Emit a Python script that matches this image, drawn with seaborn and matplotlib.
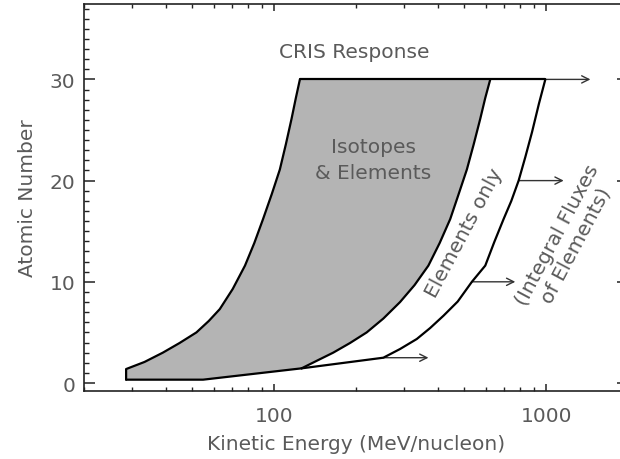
import matplotlib
matplotlib.use("Agg")
import matplotlib.pyplot as plt
import seaborn as sns
import numpy as np
from matplotlib.ticker import FixedLocator, MultipleLocator, FuncFormatter, NullFormatter, LogLocator

# ---- data ----
# left edge of the "Isotopes & Elements" region (energy MeV/nucleon, Z)
left_E = [28.5, 28.5, 33.3, 38.9, 44.8, 51.7, 57.4, 63.0, 70.3, 78.0,
          84.4, 90.9, 97.9, 104.8, 110.3, 115.7, 120.0, 124.2]
left_Z = [0.33, 1.38, 2.08, 3.0, 3.95, 5.0, 6.13, 7.3, 9.29, 11.6,
          13.83, 16.2, 18.68, 21.1, 23.6, 26.1, 28.16, 30]
# right edge of shaded region = left edge of "Elements only"
mid_E = [126.0, 143.1, 164.7, 189.8, 218.7, 251.8, 290.1, 328.1, 368.8,
         405.7, 443.7, 476.7, 510.9, 541.5, 572.1, 596.9, 622.8]
mid_Z = [1.45, 2.19, 3.0, 3.95, 5.0, 6.37, 8.0, 9.68, 11.6,
         13.83, 16.2, 18.68, 21.1, 23.6, 26.1, 28.16, 30]
# bottom of shaded region
bottom_E = [28.5, 54.7, 126.0]
bottom_Z = [0.33, 0.33, 1.45]
# outer edge of the "Elements only" region
outer_E = [126.0, 251.8, 290.1, 334.3, 374.2, 419.1, 472.7, 533.0, 597.0,
           644.4, 697.3, 744.1, 792.0, 838.2, 887.3, 940.0, 993.0]
outer_Z = [1.45, 2.5, 3.36, 4.35, 5.43, 6.65, 8.05, 10, 11.6,
           13.93, 16.2, 17.98, 20, 22.33, 24.8, 27.57, 30]
# top line
top_E = [124.2, 993.0]
top_Z = [30, 30]
# integral flux arrows
arrow_Z = [2.5, 10, 20, 30]
arrow_start = [251.8, 533.0, 792.0, 993.0]
arrow_end = [369.0, 770.0, 1160.0, 1455.0]

x_ticks = [100, 1000]
y_ticks = [0, 10, 20, 30]

# ---- style ----
sns.set_style("white")
plt.rcParams["font.family"] = ["DejaVu Sans"]
txt = "#5a5a5a"
fs = 14.5

fig = plt.figure(figsize=(6.2, 4.6), dpi=100)
ax = fig.add_axes([84.3 / 620, (460 - 391.5) / 460, (628 - 84.3) / 620, (391.5 - 5) / 460])
ax.set_xscale("log")
ax.set_xlim(20, 2000)
ax.set_ylim(-0.74, 37.45)

# shaded polygon
poly_E = left_E + mid_E[::-1] + bottom_E[::-1][1:]
poly_Z = left_Z + mid_Z[::-1] + bottom_Z[::-1][1:]
ax.fill(poly_E, poly_Z, color="#b4b4b4", lw=0, zorder=1)

line_kw = dict(color="black", linewidth=1.6, sort=False, estimator=None, ax=ax, zorder=3)
for xs, ys in [(left_E, left_Z), (mid_E, mid_Z), (bottom_E, bottom_Z),
               (outer_E, outer_Z), (top_E, top_Z)]:
    sns.lineplot(x=xs, y=ys, **line_kw)

for z, xs, xe in zip(arrow_Z, arrow_start, arrow_end):
    ax.annotate("", xy=(xe, z), xytext=(xs, z),
                arrowprops=dict(arrowstyle="->", color="#333333", lw=1.0,
                                shrinkA=0, shrinkB=0, mutation_scale=13),
                zorder=2)

# texts
ax.text(197.6, 32.8, "CRIS Response", color=txt, fontsize=fs, ha="center", va="center")
ax.text(230.7, 22.1, "Isotopes\n& Elements", color=txt, fontsize=fs, ha="center",
        va="center", linespacing=1.45)
ax.text(499.5, 14.9, "Elements only", color=txt, fontsize=fs, ha="center", va="center",
        rotation=62, rotation_mode="anchor")
ax.text(1190, 14.2, "(Integral Fluxes\nof Elements)", color=txt, fontsize=fs,
        ha="center", va="center", rotation=62, rotation_mode="anchor",
        multialignment="center", linespacing=1.2)

# axes
ax.xaxis.set_major_locator(FixedLocator(x_ticks))
ax.xaxis.set_major_formatter(FuncFormatter(lambda v, _: f"{v:g}"))
ax.xaxis.set_minor_locator(LogLocator(base=10, subs=np.arange(2, 10)))
ax.xaxis.set_minor_formatter(NullFormatter())
ax.yaxis.set_major_locator(FixedLocator(y_ticks))
ax.yaxis.set_minor_locator(MultipleLocator(1))

ax.tick_params(which="both", direction="in", top=True, right=True, bottom=True, left=True,
               colors="#222222", labelcolor=txt, labelsize=fs)
ax.tick_params(axis="y", which="major", length=7.7, width=1.1, pad=6.5)
ax.tick_params(axis="y", which="minor", length=3.6, width=1.0)
ax.tick_params(axis="x", which="major", length=5.3, width=1.1, pad=11)
ax.tick_params(axis="x", which="minor", length=2.6, width=1.0)

for s in ax.spines.values():
    s.set_color("#222222")
    s.set_linewidth(1.2)

ax.set_xlabel("Kinetic Energy (MeV/nucleon)", color=txt, fontsize=fs, labelpad=7)
ax.set_ylabel("Atomic Number", color=txt, fontsize=fs, labelpad=9)
ax.grid(False)

fig.savefig("out.png", dpi=100)
